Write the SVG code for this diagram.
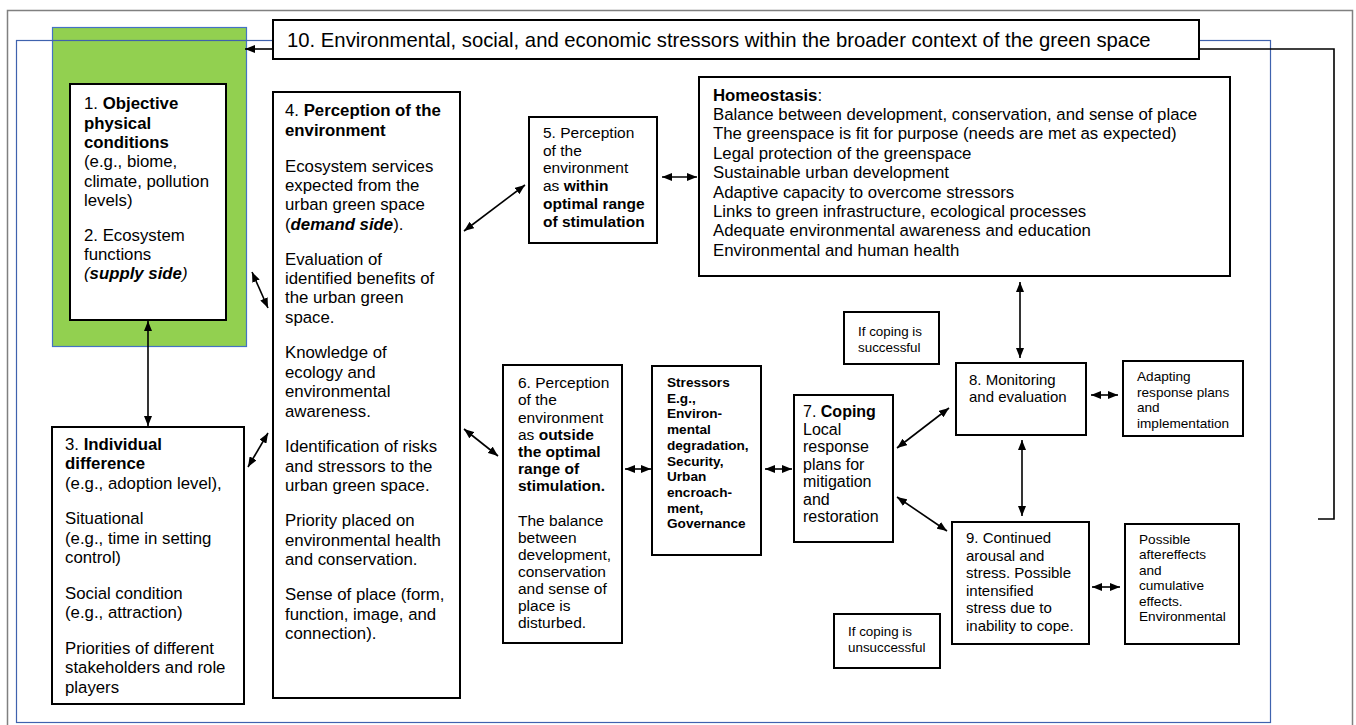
<svg xmlns="http://www.w3.org/2000/svg" width="1356" height="725" viewBox="0 0 1356 725">
<style>
text{font-family:"Liberation Sans",Arial,Helvetica,sans-serif;fill:#000}
.box{fill:#fff;stroke:#000;stroke-width:2}
.t16{font-size:16.8px}
.t155{font-size:15.5px}
.t15{font-size:15px}
.t135{font-size:13.6px}
.t13{font-size:13.4px}
.b{font-weight:bold}
.i{font-style:italic}
.c{fill:none;stroke:#000;stroke-width:1.6}
</style>
<defs>
<marker id="ah" viewBox="0 0 10 8" refX="10" refY="4" markerWidth="10" markerHeight="8" markerUnits="userSpaceOnUse" orient="auto-start-reverse">
<path d="M0,0 L10,4 L0,8 z" fill="#000"/>
</marker>
</defs>
<rect width="1356" height="725" fill="#fff"/>
<rect x="7.5" y="10.5" width="1345" height="730" fill="none" stroke="#808080" stroke-width="1.5"/>
<g id="green-area">
<rect x="52.5" y="27.5" width="194" height="319" fill="#92D050" stroke="#4472C4" stroke-width="1.2"/>
</g>
<rect id="context-frame" x="16.5" y="40.5" width="1254" height="682" fill="none" stroke="#3F62AE" stroke-width="1.2"/>

<g id="connectors">
<line class="c" x1="273" y1="49" x2="245" y2="49" marker-end="url(#ah)"/>
<polyline class="c" points="1199,49 1334,49 1334,519 1318,519"/>
<line class="c" x1="148" y1="321" x2="148" y2="426" marker-start="url(#ah)" marker-end="url(#ah)"/>
<line class="c" x1="252" y1="272" x2="268" y2="308" marker-start="url(#ah)" marker-end="url(#ah)"/>
<line class="c" x1="248" y1="467" x2="268" y2="433" marker-start="url(#ah)" marker-end="url(#ah)"/>
<line class="c" x1="464" y1="231" x2="525" y2="185" marker-start="url(#ah)" marker-end="url(#ah)"/>
<line class="c" x1="464" y1="429" x2="498" y2="456" marker-start="url(#ah)" marker-end="url(#ah)"/>
<line class="c" x1="662" y1="177" x2="697" y2="177" marker-start="url(#ah)" marker-end="url(#ah)"/>
<line class="c" x1="1020" y1="282" x2="1020" y2="358" marker-start="url(#ah)" marker-end="url(#ah)"/>
<line class="c" x1="625" y1="469" x2="651" y2="469" marker-start="url(#ah)" marker-end="url(#ah)"/>
<line class="c" x1="765" y1="469" x2="792" y2="469" marker-start="url(#ah)" marker-end="url(#ah)"/>
<line class="c" x1="897" y1="448" x2="949" y2="408" marker-start="url(#ah)" marker-end="url(#ah)"/>
<line class="c" x1="897" y1="497" x2="947" y2="531" marker-start="url(#ah)" marker-end="url(#ah)"/>
<line class="c" x1="1091" y1="395" x2="1118" y2="395" marker-start="url(#ah)" marker-end="url(#ah)"/>
<line class="c" x1="1022" y1="440" x2="1022" y2="516" marker-start="url(#ah)" marker-end="url(#ah)"/>
<line class="c" x1="1092" y1="587" x2="1120" y2="587" marker-start="url(#ah)" marker-end="url(#ah)"/>
</g>

<g id="node10">
<rect class="box" x="273" y="20" width="926" height="39"/>
<text x="287" y="47" style="font-size:20.3px">10. Environmental, social, and economic stressors within the broader context of the green space</text>
</g>

<g id="node1">
<rect class="box" x="70" y="84" width="156" height="236"/>
<text class="t16" x="84" y="109">1. <tspan class="b">Objective</tspan></text>
<text class="t16 b" x="84" y="128.5">physical</text>
<text class="t16 b" x="84" y="148">conditions</text>
<text class="t16" x="84" y="167">(e.g., biome,</text>
<text class="t16" x="84" y="186.5">climate, pollution</text>
<text class="t16" x="84" y="206">levels)</text>
<text class="t16" x="84" y="241">2. Ecosystem</text>
<text class="t16" x="84" y="260">functions</text>
<text class="t16 i" x="84" y="279">(<tspan class="b">supply side</tspan>)</text>
</g>

<g id="node3">
<rect class="box" x="52" y="427" width="192" height="277"/>
<text class="t16" x="65" y="449.5">3. <tspan class="b">Individual</tspan></text>
<text class="t16 b" x="65" y="469">difference</text>
<text class="t16" x="65" y="488.5">(e.g., adoption level),</text>
<text class="t16" x="65" y="524">Situational</text>
<text class="t16" x="65" y="543.5">(e.g., time in setting</text>
<text class="t16" x="65" y="563">control)</text>
<text class="t16" x="65" y="598.5">Social condition</text>
<text class="t16" x="65" y="618">(e.g., attraction)</text>
<text class="t16" x="65" y="654">Priorities of different</text>
<text class="t16" x="65" y="673">stakeholders and role</text>
<text class="t16" x="65" y="692.5">players</text>
</g>

<g id="node4">
<rect class="box" x="273" y="92" width="187" height="606"/>
<text class="t16" x="285" y="116">4. <tspan class="b">Perception of the</tspan></text>
<text class="t16 b" x="285" y="135.5">environment</text>
<text class="t16" x="285" y="171.5">Ecosystem services</text>
<text class="t16" x="285" y="191">expected from the</text>
<text class="t16" x="285" y="210">urban green space</text>
<text class="t16" x="285" y="229.5">(<tspan class="b i">demand side</tspan>).</text>
<text class="t16" x="285" y="264.5">Evaluation of</text>
<text class="t16" x="285" y="284">identified benefits of</text>
<text class="t16" x="285" y="303">the urban green</text>
<text class="t16" x="285" y="322.5">space.</text>
<text class="t16" x="285" y="358">Knowledge of</text>
<text class="t16" x="285" y="377.5">ecology and</text>
<text class="t16" x="285" y="397">environmental</text>
<text class="t16" x="285" y="416.5">awareness.</text>
<text class="t16" x="285" y="452">Identification of risks</text>
<text class="t16" x="285" y="471.5">and stressors to the</text>
<text class="t16" x="285" y="491">urban green space.</text>
<text class="t16" x="285" y="526">Priority placed on</text>
<text class="t16" x="285" y="545.5">environmental health</text>
<text class="t16" x="285" y="565">and conservation.</text>
<text class="t16" x="285" y="600">Sense of place (form,</text>
<text class="t16" x="285" y="619.5">function, image, and</text>
<text class="t16" x="285" y="639">connection).</text>
</g>

<g id="node5">
<rect class="box" x="529" y="117" width="128" height="126"/>
<text class="t155" x="543" y="138">5. Perception</text>
<text class="t155" x="543" y="155.7">of the</text>
<text class="t155" x="543" y="173.4">environment</text>
<text class="t155" x="543" y="191.1">as <tspan class="b">within</tspan></text>
<text class="t155 b" x="543" y="208.8">optimal range</text>
<text class="t155 b" x="543" y="226.5">of stimulation</text>
</g>

<g id="homeostasis">
<rect class="box" x="699" y="77" width="531" height="199"/>
<text class="t16" x="713" y="100.5"><tspan class="b">Homeostasis</tspan>:</text>
<text class="t16" x="713" y="120">Balance between development, conservation, and sense of place</text>
<text class="t16" x="713" y="139.4">The greenspace is fit for purpose (needs are met as expected)</text>
<text class="t16" x="713" y="158.8">Legal protection of the greenspace</text>
<text class="t16" x="713" y="178.2">Sustainable urban development</text>
<text class="t16" x="713" y="197.6">Adaptive capacity to overcome stressors</text>
<text class="t16" x="713" y="217">Links to green infrastructure, ecological processes</text>
<text class="t16" x="713" y="236.4">Adequate environmental awareness and education</text>
<text class="t16" x="713" y="255.8">Environmental and human health</text>
</g>

<g id="if-success">
<rect class="box" x="844" y="312" width="95" height="52"/>
<text class="t13" x="858" y="336">If coping is</text>
<text class="t13" x="858" y="351.5">successful</text>
</g>

<g id="node6">
<rect class="box" x="503" y="365" width="119" height="278"/>
<text class="t155" x="518" y="388.3">6. Perception</text>
<text class="t155" x="518" y="405.4">of the</text>
<text class="t155" x="518" y="422.5">environment</text>
<text class="t155" x="518" y="439.6">as <tspan class="b">outside</tspan></text>
<text class="t155 b" x="518" y="456.7">the optimal</text>
<text class="t155 b" x="518" y="473.8">range of</text>
<text class="t155 b" x="518" y="490.9">stimulation.</text>
<text class="t155" x="518" y="526">The balance</text>
<text class="t155" x="518" y="543">between</text>
<text class="t155" x="518" y="560">development,</text>
<text class="t155" x="518" y="577">conservation</text>
<text class="t155" x="518" y="594">and sense of</text>
<text class="t155" x="518" y="611">place is</text>
<text class="t155" x="518" y="628">disturbed.</text>
</g>

<g id="stressors">
<rect class="box" x="652" y="366" width="109" height="189"/>
<text class="t135 b" x="667" y="386.7">Stressors</text>
<text class="t135 b" x="667" y="402.5">E.g.,</text>
<text class="t135 b" x="667" y="418.3">Environ-</text>
<text class="t135 b" x="667" y="434">mental</text>
<text class="t135 b" x="667" y="449.8">degradation,</text>
<text class="t135 b" x="667" y="465.5">Security,</text>
<text class="t135 b" x="667" y="481.2">Urban</text>
<text class="t135 b" x="667" y="497">encroach-</text>
<text class="t135 b" x="667" y="512.7">ment,</text>
<text class="t135 b" x="667" y="528.4">Governance</text>
</g>

<g id="node7">
<rect class="box" x="794" y="395" width="99" height="147"/>
<text class="t16" x="803" y="417" style="font-size:16px">7. <tspan class="b">Coping</tspan></text>
<text x="803" y="434.5" style="font-size:16px">Local</text>
<text x="803" y="452" style="font-size:16px">response</text>
<text x="803" y="469.5" style="font-size:16px">plans for</text>
<text x="803" y="487" style="font-size:16px">mitigation</text>
<text x="803" y="504.5" style="font-size:16px">and</text>
<text x="803" y="522" style="font-size:16px">restoration</text>
</g>

<g id="node8">
<rect class="box" x="956" y="363" width="130" height="72"/>
<text class="t15" x="969" y="384.5">8. Monitoring</text>
<text class="t15" x="969" y="402">and evaluation</text>
</g>

<g id="adapting">
<rect class="box" x="1123" y="361" width="120" height="75"/>
<text class="t135" x="1137" y="381">Adapting</text>
<text class="t135" x="1137" y="396.5">response plans</text>
<text class="t135" x="1137" y="412">and</text>
<text class="t135" x="1137" y="427.5">implementation</text>
</g>

<g id="node9">
<rect class="box" x="952" y="522" width="137" height="122"/>
<text class="t15" x="966" y="543">9. Continued</text>
<text class="t15" x="966" y="560.6">arousal and</text>
<text class="t15" x="966" y="578.2">stress. Possible</text>
<text class="t15" x="966" y="595.8">intensified</text>
<text class="t15" x="966" y="613.4">stress due to</text>
<text class="t15" x="966" y="631">inability to cope.</text>
</g>

<g id="aftereffects">
<rect class="box" x="1125" y="524" width="114" height="120"/>
<text class="t135" x="1139" y="543.5">Possible</text>
<text class="t135" x="1139" y="559">aftereffects</text>
<text class="t135" x="1139" y="574.5">and</text>
<text class="t135" x="1139" y="590">cumulative</text>
<text class="t135" x="1139" y="605.5">effects.</text>
<text class="t135" x="1139" y="621">Environmental</text>
</g>

<g id="if-unsuccess">
<rect class="box" x="834" y="614" width="106" height="54"/>
<text class="t13" x="848" y="636">If coping is</text>
<text class="t13" x="848" y="651.5">unsuccessful</text>
</g>
</svg>
